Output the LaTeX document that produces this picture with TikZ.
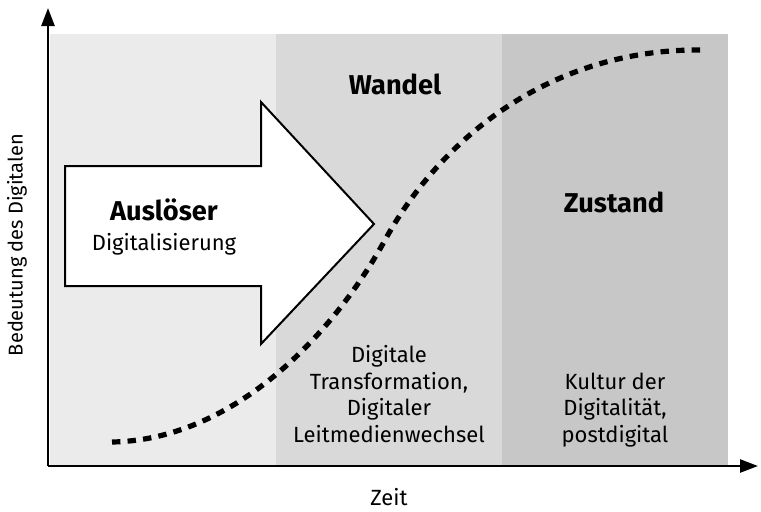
\documentclass[tikz,border=0pt]{standalone}
\usepackage{fontspec}
\setmainfont{Fira Sans}
\usetikzlibrary{arrows.meta}
\tikzset{
  axis/.style={line width=1.25pt,-{Triangle[length=9pt,width=6.5pt]}},
  label/.style={font=\fontsize{11}{13.2}\selectfont,align=center,inner sep=0pt},
  title/.style={font=\fontsize{13.6}{16}\selectfont\bfseries,inner sep=0pt},
  curve/.style={line width=2.6pt,dash pattern=on 4.2pt off 3.6pt},
}
\begin{document}
\begin{tikzpicture}[x=0.5pt,y=-0.5pt]
\useasboundingbox (0,0) rectangle (761,511);
% the three phases
\fill[black!8] (50,34) rectangle (276,466);
\fill[black!15] (276,34) rectangle (502,466);
\fill[black!22] (502,34) rectangle (728,466);
% big arrow
\draw[line width=1pt,fill=white] (65,166) -- (261,166) -- (261,102) -- (374,224)
  -- (261,344) -- (261,286) -- (65,286) -- cycle;
% s-curve
\draw[curve] (112,442) .. controls (230,440) and (330,340) .. (385,240)
  .. controls (440,140) and (550,47) .. (706,50);
% axes
\coordinate (origin) at (48,466);
\coordinate (ytop) at (48,8);
\coordinate (xend) at (758,466);
\draw[axis] (origin) -- (ytop);
\draw[axis] (origin) -- (xend);
\node[label] (zeit) at (389,497) {Zeit};
\node[label,font=\fontsize{10}{12}\selectfont,rotate=90] (bedeutung) at (17,245) {Bedeutung des Digitalen};
% texts
\node[title] (ausloeser) at (164,210) {Auslöser};
\node[label] (digitalisierung) at (164,244) {Digitalisierung};
\node[title] (wandel) at (395,84) {Wandel};
\node[label] (transformation) at (389,394) {Digitale\\Transformation,\\Digitaler\\Leitmedienwechsel};
\node[title] (zustand) at (614,202) {Zustand};
\node[label] (kultur) at (615,410) {Kultur der\\Digitalität,\\postdigital};
\end{tikzpicture}
\end{document}
